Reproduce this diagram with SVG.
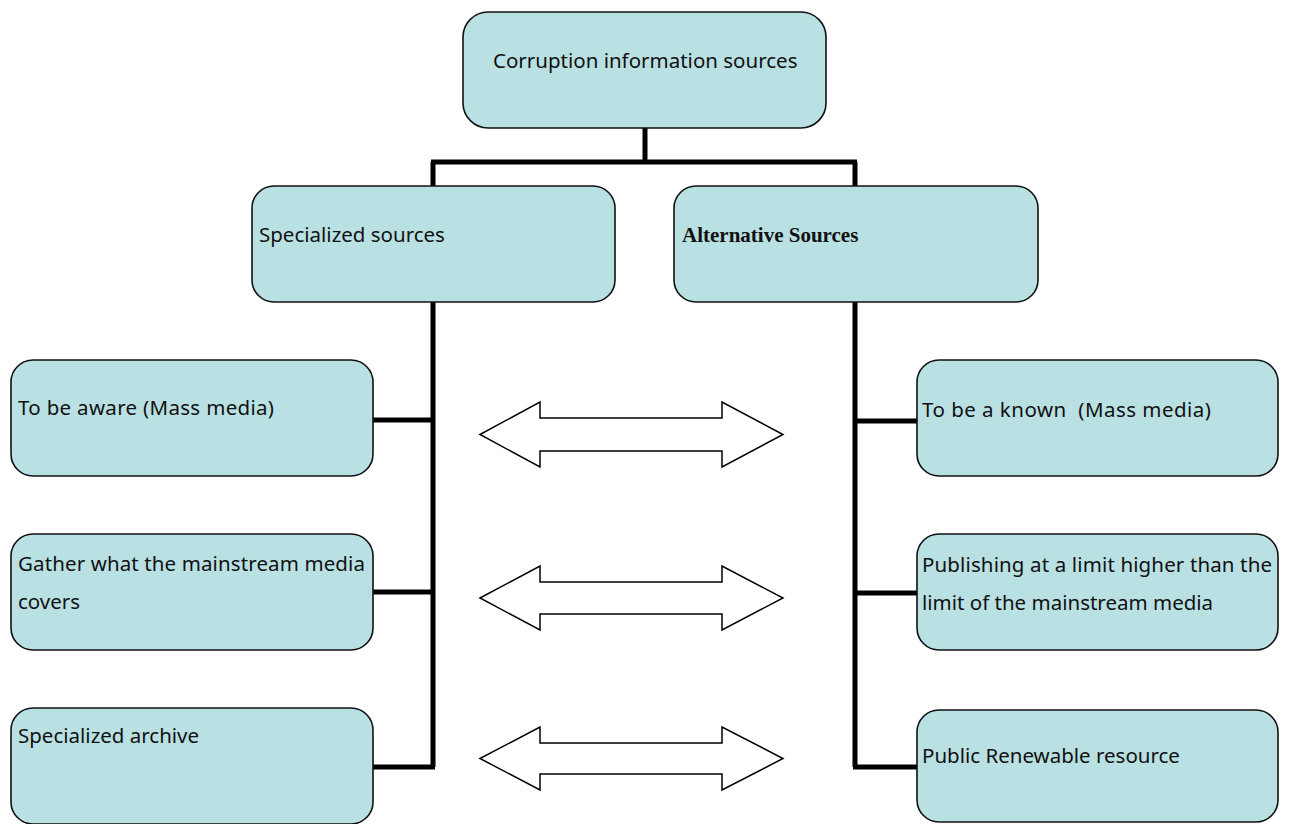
<svg xmlns="http://www.w3.org/2000/svg" width="1289" height="824" viewBox="0 0 1289 824">
<style>
.box{fill:#b9e0e3;stroke:#111;stroke-width:1.6}
.t{font-family:"Noto Sans","Open Sans","DejaVu Sans",sans-serif;font-size:20.5px;fill:#111}
.tb{font-family:"Liberation Serif","Times New Roman",serif;font-size:21px;font-weight:bold;fill:#111}
.ln{fill:none;stroke:#000;stroke-width:5}
.arr{fill:#fff;stroke:#000;stroke-width:1.5}
</style>
<rect width="1289" height="824" fill="#fff"/>
<g id="connectors">
<path class="ln" d="M645 128 V162 M431 162 H857 M433 162 V187 M855 162 V187"/>
<path class="ln" d="M433 302 V767 M373 420 H433 M373 592 H433 M373 767 H435"/>
<path class="ln" d="M855 302 V767 M855 421 H917 M855 593 H917 M853 767 H917"/>
</g>
<g id="arrows">
<polygon class="arr" points="480,434.5 540,402 540,418 722,418 722,402 783,434.5 722,467 722,451 540,451 540,467"/>
<polygon class="arr" points="480,598 540,566 540,582 722,582 722,566 783,598 722,630 722,614 540,614 540,630"/>
<polygon class="arr" points="480,758.5 540,727 540,743 722,743 722,727 783,758.5 722,790 722,774 540,774 540,790"/>
</g>
<g id="root"><rect class="box" x="463" y="12" width="363" height="116" rx="25"/><text class="t" x="493" y="68">Corruption information sources</text></g>
<g id="specialized"><rect class="box" x="252" y="186" width="363" height="116" rx="22"/><text class="t" x="259" y="242">Specialized sources</text></g>
<g id="alternative"><rect class="box" x="674" y="186" width="364" height="116" rx="22"/><text class="tb" x="682" y="242">Alternative Sources</text></g>
<g id="aware"><rect class="box" x="11" y="360" width="362" height="116" rx="22"/><text class="t" x="18" y="415" textLength="256" lengthAdjust="spacing">To be aware (Mass media)</text></g>
<g id="gather"><rect class="box" x="11" y="534" width="362" height="116" rx="22"/><text class="t" x="18" y="571" textLength="347" lengthAdjust="spacing">Gather what the mainstream media</text><text class="t" x="18" y="609">covers</text></g>
<g id="archive"><rect class="box" x="11" y="708" width="362" height="116" rx="22"/><text class="t" x="18" y="743">Specialized archive</text></g>
<g id="known"><rect class="box" x="917" y="360" width="361" height="116" rx="22"/><text class="t" x="922" y="417" xml:space="preserve" textLength="289" lengthAdjust="spacing">To be a known  (Mass media)</text></g>
<g id="publishing"><rect class="box" x="917" y="534" width="361" height="116" rx="22"/><text class="t" x="922" y="572" textLength="350" lengthAdjust="spacing">Publishing at a limit higher than the</text><text class="t" x="922" y="610">limit of the mainstream media</text></g>
<g id="renewable"><rect class="box" x="917" y="710" width="361" height="112" rx="22"/><text class="t" x="922" y="763">Public Renewable resource</text></g>
</svg>
